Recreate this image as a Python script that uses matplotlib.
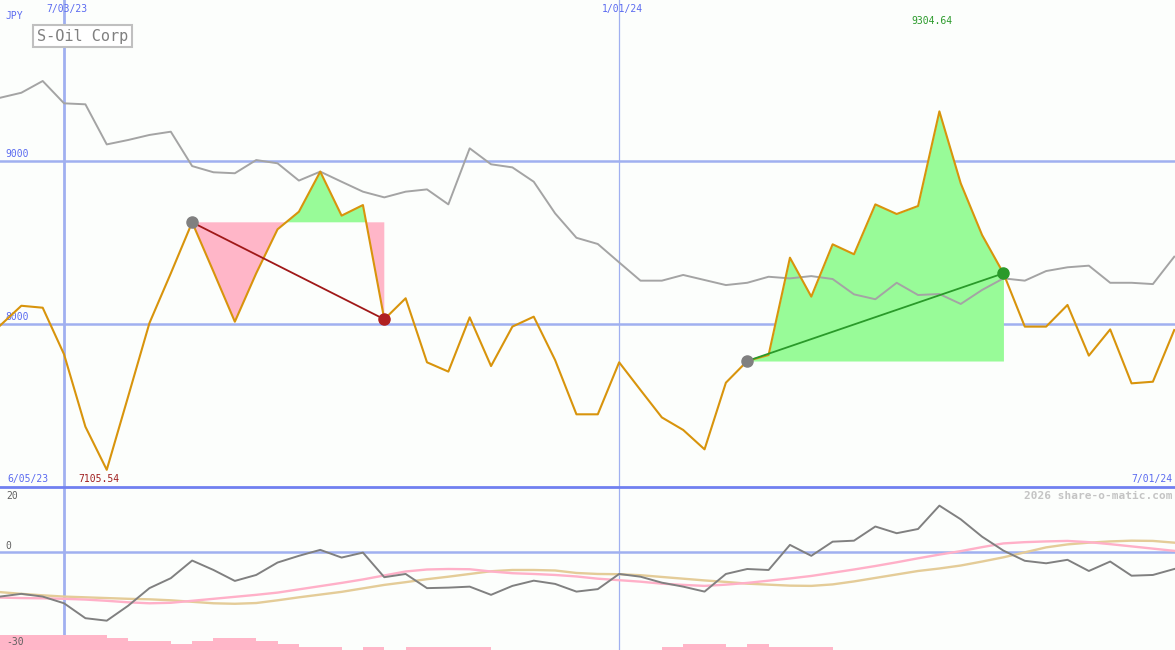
import numpy as np
import pandas as pd
import matplotlib
matplotlib.use("Agg")
import matplotlib.pyplot as plt
import matplotlib.transforms as mtrans
from matplotlib.lines import Line2D

# weekly closes, S-Oil Corp (JPY)
dates = pd.date_range("2023-06-12", periods=56, freq="7D")
price = [7990, 8112, 8100, 7814, 7370, 7105.54, 7554, 8006, 8311, 8624,
         8321, 8014, 8311, 8581, 8689, 8935, 8665, 8730, 8029, 8158,
         7765, 7708, 8041, 7742, 7984, 8045, 7779, 7446, 7446, 7765,
         7595, 7427, 7350, 7231, 7640, 7773, 7810, 8407, 8168, 8489,
         8428, 8734, 8675, 8724, 9304.64, 8863, 8546, 8311, 7984, 7984,
         8117, 7806, 7967, 7636, 7646, 7963]
ref_line = [9388, 9419, 9491, 9354, 9348, 9102, 9129, 9160, 9180, 8969,
            8931, 8925, 9006, 8986, 8880, 8935, 8873, 8812, 8777, 8812,
            8826, 8734, 9078, 8980, 8961, 8873, 8679, 8529, 8491, 8378,
            8266, 8266, 8301, 8270, 8239, 8253, 8290, 8280, 8294, 8276,
            8182, 8152, 8253, 8178, 8184, 8123, 8209, 8280, 8266, 8325,
            8348, 8358, 8253, 8253, 8245, 8413]

# lower panel
osc = [-18.1, -17.0, -18.1, -20.8, -26.8, -27.8, -21.8, -14.7, -10.7, -3.6,
       -7.4, -11.8, -9.4, -4.4, -1.7, 0.7, -2.4, -0.4, -10.3, -9.0,
       -14.7, -14.5, -14.1, -17.4, -13.8, -11.7, -13.0, -16.1, -15.1, -9.0,
       -10.1, -12.5, -14.1, -16.1, -9.0, -7.0, -7.4, 2.7, -1.7, 4.0,
       4.4, 10.1, 7.4, 9.1, 18.5, 13.0, 6.0, 0.4, -3.7, -4.7,
       -3.3, -7.8, -4.0, -9.7, -9.4, -7.0]
osc_fast = [-18.5, -18.7, -18.8, -19.0, -19.3, -19.8, -20.4, -20.8, -20.6, -19.8,
            -19.0, -18.2, -17.4, -16.5, -15.2, -13.9, -12.6, -11.2, -9.6, -8.0,
            -7.2, -7.0, -7.1, -8.0, -8.7, -9.0, -9.4, -10.0, -10.9, -11.5,
            -12.1, -12.9, -13.4, -13.8, -13.3, -12.6, -11.7, -10.8, -9.8, -8.5,
            -7.2, -5.8, -4.3, -2.7, -1.2, 0.2, 1.8, 3.3, 3.8, 4.1,
            4.3, 3.8, 3.0, 2.1, 1.2, 0.3]
osc_slow = [-16.3, -17.0, -17.6, -18.1, -18.4, -18.7, -19.0, -19.2, -19.6, -20.2,
            -20.8, -21.0, -20.7, -19.6, -18.4, -17.3, -16.2, -14.8, -13.4, -12.3,
            -11.1, -10.1, -9.0, -7.9, -7.4, -7.4, -7.6, -8.6, -9.0, -9.1,
            -9.5, -10.2, -10.9, -11.6, -12.2, -12.9, -13.3, -13.7, -13.8, -13.2,
            -12.0, -10.6, -9.2, -7.8, -6.8, -5.6, -4.0, -2.3, -0.3, 1.7,
            2.9, 3.6, 4.1, 4.4, 4.3, 3.6]
bar_vals = [6.0, 6.0, 6.0, 6.0, 6.0, 4.7, 3.6, 3.6, 2.4, 3.6,
            4.7, 4.7, 3.6, 2.4, 1.3, 1.3, 0, 1.3, 0, 1.3,
            1.3, 1.3, 1.3, 0, 0, 0, 0, 0, 0, 0,
            0, 1.3, 2.4, 2.4, 1.3, 2.4, 1.3, 1.3, 1.3, 0,
            0, 0, 0, 0, 0, 0, 0, 0, 0, 0,
            0, 0, 0, 0, 0, 0]

# (entry week, exit week)
trades = [(9, 18), (35, 47)]
marked_dates = ["2023-07-03", "2024-01-01"]

price = np.array(price)
bg = "#fcfefc"
grid_c = "#a0b0f0"
blue_txt = "#5a6af0"
mono = "DejaVu Sans Mono"

fig = plt.figure(figsize=(11.75, 6.5), dpi=100, facecolor=bg)
ax = fig.add_axes([0, 163 / 650, 1, 487 / 650])
ax2 = fig.add_axes([0, 0, 1, 163 / 650], sharex=ax)
for a in (ax, ax2):
    a.set_facecolor(bg)
    for s in a.spines.values():
        s.set_visible(False)
    a.tick_params(left=False, bottom=False, labelleft=False, labelbottom=False)
ax.set_xlim(dates[0], dates[-1] + pd.Timedelta(hours=6))
ax.set_ylim(7000, 9988)
ax2.set_ylim(-39.6, 26.0)

# grid
for d, lw in zip(marked_dates, [2.0, 0.9]):
    for a in (ax, ax2):
        a.axvline(pd.Timestamp(d), color=grid_c, lw=lw, zorder=1)
for lvl in (9000, 8000):
    ax.axhline(lvl, color=grid_c, lw=1.8, zorder=1)
    ax.text(0.005, lvl + 15, str(lvl), transform=ax.get_yaxis_transform(),
            fontsize=7, family=mono, color=blue_txt, va="bottom", ha="left")
ax2.axhline(0, color=grid_c, lw=1.8, zorder=1)

# trades
for a_i, b_i in trades:
    seg = slice(a_i, b_i + 1)
    base = price[a_i]
    ax.fill_between(dates[seg], price[seg], base, where=price[seg] >= base,
                    interpolate=True, color="#98fb98", lw=0, zorder=2)
    ax.fill_between(dates[seg], price[seg], base, where=price[seg] <= base,
                    interpolate=True, color="#ffb6c8", lw=0, zorder=2)

ax.plot(dates, ref_line, color="#a4a4a4", lw=1.4, zorder=3)
ax.plot(dates, price, color="#d8940c", lw=1.5, zorder=4)

for a_i, b_i in trades:
    win = price[b_i] > price[a_i]
    c_line = "#2a9a2a" if win else "#a01818"
    c_end = "#2a9a2a" if win else "#b02020"
    ax.plot([dates[a_i], dates[b_i]], [price[a_i], price[b_i]], color=c_line, lw=1.3, zorder=5)
    ax.plot(dates[a_i], price[a_i], "o", color="#808080", ms=8, zorder=6)
    ax.plot(dates[b_i], price[b_i], "o", color=c_end, ms=8, zorder=6)

# labels
lo, hi = int(np.argmin(price)), int(np.argmax(price))
bt = mtrans.blended_transform_factory(ax.transData, ax.transAxes)
ax.text(dates[lo] - pd.Timedelta(days=2.5), 0.0164, f"{price[lo]:.2f}", transform=bt,
        fontsize=7, family=mono, color="#a02020", ha="center", va="center")
ax.text(dates[hi] - pd.Timedelta(days=2.5), 0.957, f"{price[hi]:.2f}", transform=bt,
        fontsize=7, family=mono, color="#2a9a2a", ha="center", va="center")
for d in marked_dates:
    ts = pd.Timestamp(d)
    ax.text(ts + pd.Timedelta(days=1), 0.9815, f"{ts.month}/{ts.day:02d}/{ts.year % 100}",
            transform=bt, fontsize=7, family=mono, color=blue_txt, ha="center", va="center")
ax.text(0.006, 0.0164, "6/05/23", transform=ax.transAxes, fontsize=7, family=mono,
        color=blue_txt, ha="left", va="center")
ax.text(0.9975, 0.0164, "7/01/24", transform=ax.transAxes, fontsize=7, family=mono,
        color=blue_txt, ha="right", va="center")
ax.text(0.005, 0.967, "JPY", transform=ax.transAxes, fontsize=7, family=mono,
        color=blue_txt, ha="left", va="center")
ax.text(0.0315, 0.926, "S-Oil Corp", transform=ax.transAxes, fontsize=11, family=mono,
        color="#808080", ha="left", va="center",
        bbox=dict(boxstyle="square,pad=0.25", fc="white", ec="#c0c0c0", lw=1.5))

# lower panel
ax2.bar(dates, bar_vals, width=7, align="edge", bottom=-39.6, color="#ffb6c8", lw=0, zorder=2)
ax2.plot(dates, osc_slow, color="#e4cc98", lw=1.7, zorder=3)
ax2.plot(dates, osc_fast, color="#ffb0c8", lw=1.7, zorder=3)
ax2.plot(dates, osc, color="#808080", lw=1.4, zorder=4)
for v, y in (("20", 22.4), ("0", 2.3), ("-30", -36.3)):
    ax2.text(0.005, y, v, transform=ax2.get_yaxis_transform(), fontsize=7, family=mono,
             color="#606060", ha="left", va="center", zorder=5)
ax2.text(0.9975, 22.4, "2026 share-o-matic.com", transform=ax2.get_yaxis_transform(),
         fontsize=8, family=mono, weight="bold", color="#c4c4c4", ha="right", va="center")

fig.add_artist(Line2D([0, 1], [163 / 650, 163 / 650], color="#7080f0", lw=2.0,
                      transform=fig.transFigure))

fig.savefig("out.png", dpi=100, facecolor=bg)
